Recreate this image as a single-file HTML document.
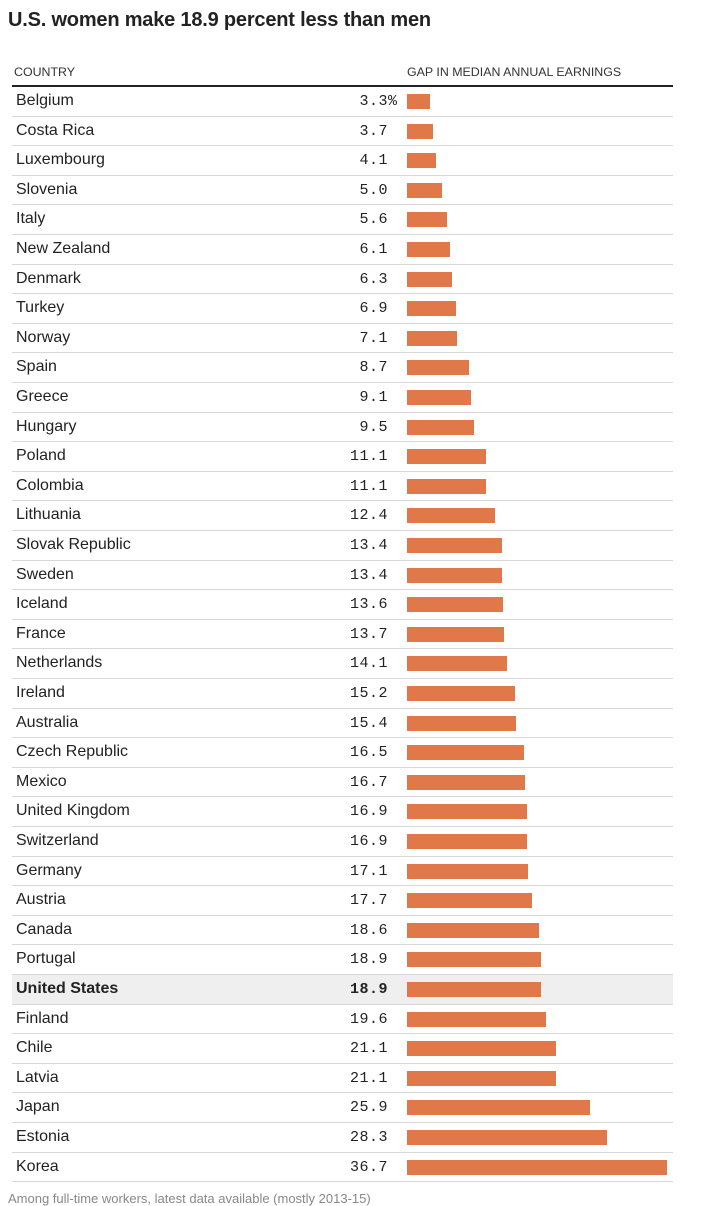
<!DOCTYPE html>
<html><head><meta charset="utf-8"><style>
body{margin:0;background:#fff;width:711px;height:1200px;overflow:hidden;font-family:"Liberation Sans",sans-serif;position:relative}
#title{position:absolute;left:8px;top:9px;font-size:20px;font-weight:bold;color:#222;letter-spacing:-0.2px}
.hdr{position:absolute;top:65px;font-size:12.4px;color:#333}
#rule{position:absolute;left:12px;top:85px;width:661px;height:2px;background:#222}
.row{position:absolute;left:12px;width:661px;border-bottom:1px solid #d8d8d8;box-sizing:border-box}
.name{position:absolute;left:4px;font-size:16px;color:#222}
.val{position:absolute;right:285px;font-family:"Liberation Mono",monospace;font-size:15px;color:#222;letter-spacing:0.5px}
.pct{position:absolute;left:100%;top:0}
.bar{position:absolute;background:#e0784a}
#note{position:absolute;left:8px;top:1191px;font-size:13px;color:#888}
</style></head><body>
<div id="title">U.S. women make 18.9 percent less than men</div>
<div class="hdr" style="left:14px">COUNTRY</div>
<div class="hdr" style="left:407px">GAP IN MEDIAN ANNUAL EARNINGS</div>
<div id="rule"></div>
<div id="rows"></div>
<div id="note">Among full-time workers, latest data available (mostly 2013-15)</div>
<script>
const countries=["Belgium","Costa Rica","Luxembourg","Slovenia","Italy","New Zealand","Denmark","Turkey","Norway","Spain","Greece","Hungary","Poland","Colombia","Lithuania","Slovak Republic","Sweden","Iceland","France","Netherlands","Ireland","Australia","Czech Republic","Mexico","United Kingdom","Switzerland","Germany","Austria","Canada","Portugal","United States","Finland","Chile","Latvia","Japan","Estonia","Korea"];
const gaps=[3.3,3.7,4.1,5.0,5.6,6.1,6.3,6.9,7.1,8.7,9.1,9.5,11.1,11.1,12.4,13.4,13.4,13.6,13.7,14.1,15.2,15.4,16.5,16.7,16.9,16.9,17.1,17.7,18.6,18.9,18.9,19.6,21.1,21.1,25.9,28.3,36.7];
const highlight="United States";
const x0=407, scale=260/36.7, top0=87, rh=29.6;
const c=document.getElementById('rows');
countries.forEach((n,i)=>{
  const y=top0+i*rh;
  const r=document.createElement('div');
  r.className='row';
  
  
  r.style.top=y+'px';r.style.height=rh+'px';
  if(n===highlight){r.style.background='#efefef';}
  const t=document.createElement('div');t.className='name';
  
  
  t.style.top='5px';t.textContent=n;
  if(n===highlight)t.style.fontWeight='bold';
  const v=document.createElement('div');v.className='val';
  
  
  v.style.top='6px';v.textContent=gaps[i].toFixed(1);
  if(i===0){const p=document.createElement('span');p.className='pct';p.textContent='%';v.appendChild(p);}
  if(n===highlight)v.style.fontWeight='bold';
  const b=document.createElement('div');b.className='bar';
  
  
  b.style.left=(x0-12)+'px';b.style.top='7px';b.style.height='15px';
  b.style.width=(gaps[i]*scale)+'px';
  r.appendChild(t);r.appendChild(v);r.appendChild(b);c.appendChild(r);
});
</script>
</body></html>
